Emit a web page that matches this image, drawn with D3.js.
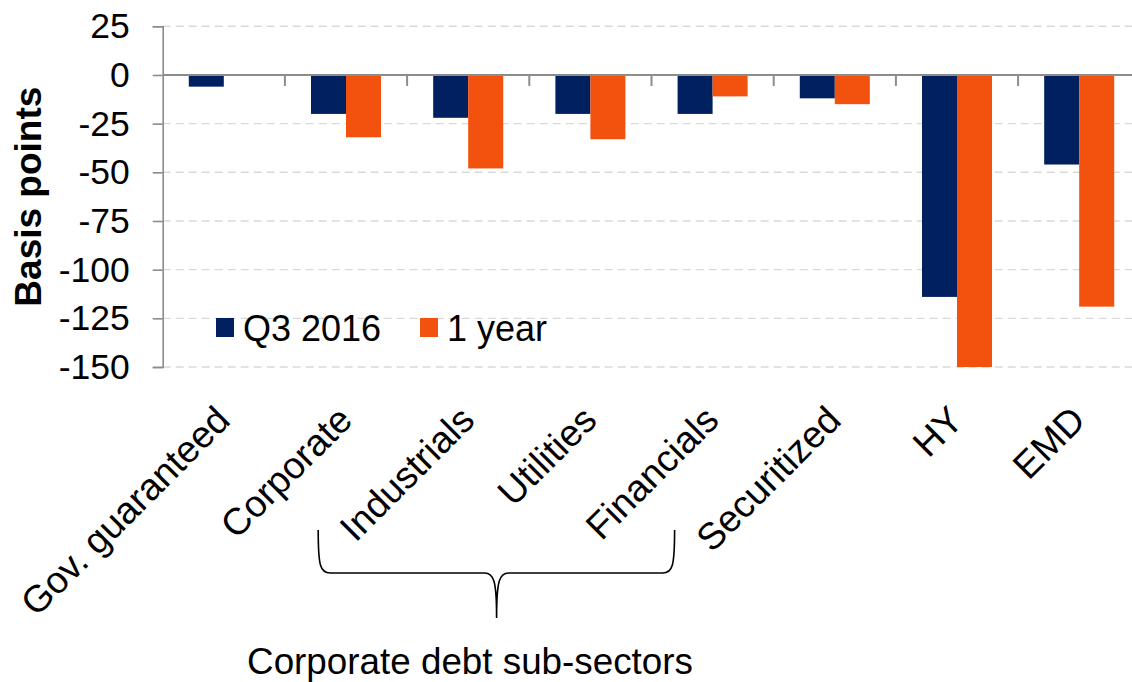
<!DOCTYPE html>
<html>
<head>
<meta charset="utf-8">
<script src="https://cdn.jsdelivr.net/npm/d3@7"></script>
<style>
  html, body { margin: 0; padding: 0; background: #fff; }
  svg { display: block; font-family: Arial, "Liberation Sans", sans-serif; }
</style>
</head>
<body>
<div id="chart"></div>
<script>
// chart data
var categories = ["Gov. guaranteed", "Corporate", "Industrials", "Utilities", "Financials", "Securitized", "HY", "EMD"];
var seriesNames = ["Q3 2016", "1 year"];
var q3Values = [-6, -20, -22, -20, -20, -12, -114, -46];
var yearValues = [null, -32, -48, -33, -11, -15, -150, -119];
var yTicks = [25, 0, -25, -50, -75, -100, -125, -150];
var colors = ["#002060", "#f2520d"];

var w = 1132, h = 682;
var plotLeft = 162.7, plotRight = 1140.3, plotTop = 26.3, plotBottom = 367;

var svg = d3.select("#chart").append("svg")
    .attr("width", w)
    .attr("height", h);

var x = d3.scaleBand()
    .domain(categories)
    .range([plotLeft, plotRight])
    .paddingInner(0.427)
    .paddingOuter(0.2135);

var xSub = d3.scaleBand()
    .domain(seriesNames)
    .range([0, x.bandwidth()]);

var y = d3.scaleLinear()
    .domain([-150, 25])
    .range([plotBottom, plotTop]);

// dashed gridlines
svg.append("g")
    .selectAll("line")
    .data(yTicks.filter(function(d) { return d !== 0; }))
    .enter()
    .append("line")
    .attr("x1", plotLeft)
    .attr("x2", w)
    .attr("y1", function(d) { return y(d); })
    .attr("y2", function(d) { return y(d); })
    .attr("stroke", "#d9d9d9")
    .attr("stroke-width", 1.4)
    .attr("stroke-dasharray", "8,5");

// bars
var rows = categories.map(function(c, i) {
    return { cat: c, values: [q3Values[i], yearValues[i]] };
});

var groups = svg.append("g")
    .selectAll("g")
    .data(rows)
    .enter()
    .append("g")
    .attr("transform", function(d) { return "translate(" + x(d.cat) + ",0)"; });

groups.selectAll("rect")
    .data(function(d) {
        return d.values.map(function(v, i) { return { key: seriesNames[i], value: v, i: i }; })
            .filter(function(e) { return e.value !== null; });
    })
    .enter()
    .append("rect")
    .attr("x", function(d) { return xSub(d.key); })
    .attr("y", y(0))
    .attr("width", xSub.bandwidth())
    .attr("height", function(d) { return y(Math.max(d.value, -150)) - y(0); })
    .attr("fill", function(d) { return colors[d.i]; });

// zero line and category ticks
svg.append("line")
    .attr("x1", plotLeft)
    .attr("x2", w)
    .attr("y1", y(0))
    .attr("y2", y(0))
    .attr("stroke", "#8c8c8c")
    .attr("stroke-width", 2);

svg.append("g")
    .selectAll("line")
    .data(d3.range(1, categories.length))
    .enter()
    .append("line")
    .attr("x1", function(i) { return plotLeft + i * x.step(); })
    .attr("x2", function(i) { return plotLeft + i * x.step(); })
    .attr("y1", y(0))
    .attr("y2", y(0) + 11)
    .attr("stroke", "#8c8c8c")
    .attr("stroke-width", 2);

// y axis (plain hyphen for negatives, as in the original)
var yAxis = svg.append("g")
    .attr("transform", "translate(" + plotLeft + ",0)")
    .call(d3.axisLeft(y).tickValues(yTicks).tickSize(10).tickPadding(23)
        .tickFormat(function(d) { return String(d); }));

yAxis.select(".domain").attr("stroke", "#8c8c8c").attr("stroke-width", 1.6);
yAxis.selectAll(".tick line").attr("stroke", "#8c8c8c").attr("stroke-width", 1.6);
yAxis.selectAll(".tick text")
    .attr("fill", "#000")
    .style("font-size", "35.5px")
    .style("font-family", "Arial, 'Liberation Sans', sans-serif");

// y axis title
svg.append("text")
    .attr("transform", "translate(41," + ((plotTop + plotBottom) / 2) + ") rotate(-90)")
    .attr("text-anchor", "middle")
    .style("font-size", "37px")
    .style("font-weight", "bold")
    .text("Basis points");

// category labels
svg.append("g")
    .selectAll("text")
    .data(categories)
    .enter()
    .append("text")
    .attr("transform", function(d) {
        return "translate(" + (x(d) + x.bandwidth() / 2 - 1) + ",413) rotate(-45)";
    })
    .attr("text-anchor", "end")
    .attr("dy", "0.35em")
    .style("font-size", "37.5px")
    .text(function(d) { return d; });

// legend
var legend = svg.append("g")
    .attr("transform", "translate(216,318)");

var legendItems = legend.selectAll("g")
    .data(seriesNames)
    .enter()
    .append("g")
    .attr("transform", function(d, i) { return "translate(" + (i * 204) + ",0)"; });

legendItems.append("rect")
    .attr("width", 18)
    .attr("height", 19)
    .attr("fill", function(d, i) { return colors[i]; });

legendItems.append("text")
    .attr("x", 27)
    .attr("y", 10)
    .attr("dy", "0.35em")
    .style("font-size", "36px")
    .text(function(d) { return d; });

// brace under the sub-sectors
var bl = x("Industrials") + x.bandwidth() / 2 - 150;
var br = x("Financials") + x.bandwidth() / 2 - 38;
var bm = (bl + br) / 2 + 0.2;
var p = d3.path();
p.moveTo(bl, 530);
p.bezierCurveTo(bl, 566, bl + 2, 573, bl + 12, 573);
p.lineTo(bm - 12, 573);
p.bezierCurveTo(bm - 3, 573, bm, 580, bm, 618);
p.bezierCurveTo(bm, 580, bm + 3, 573, bm + 12, 573);
p.lineTo(br - 12, 573);
p.bezierCurveTo(br - 2, 573, br, 566, br, 530);
svg.append("path")
    .attr("d", p.toString())
    .attr("fill", "none")
    .attr("stroke", "#000")
    .attr("stroke-width", 1.6);

svg.append("text")
    .attr("x", 470)
    .attr("y", 674)
    .attr("text-anchor", "middle")
    .style("font-size", "36.8px")
    .text("Corporate debt sub-sectors");
</script>
</body>
</html>
